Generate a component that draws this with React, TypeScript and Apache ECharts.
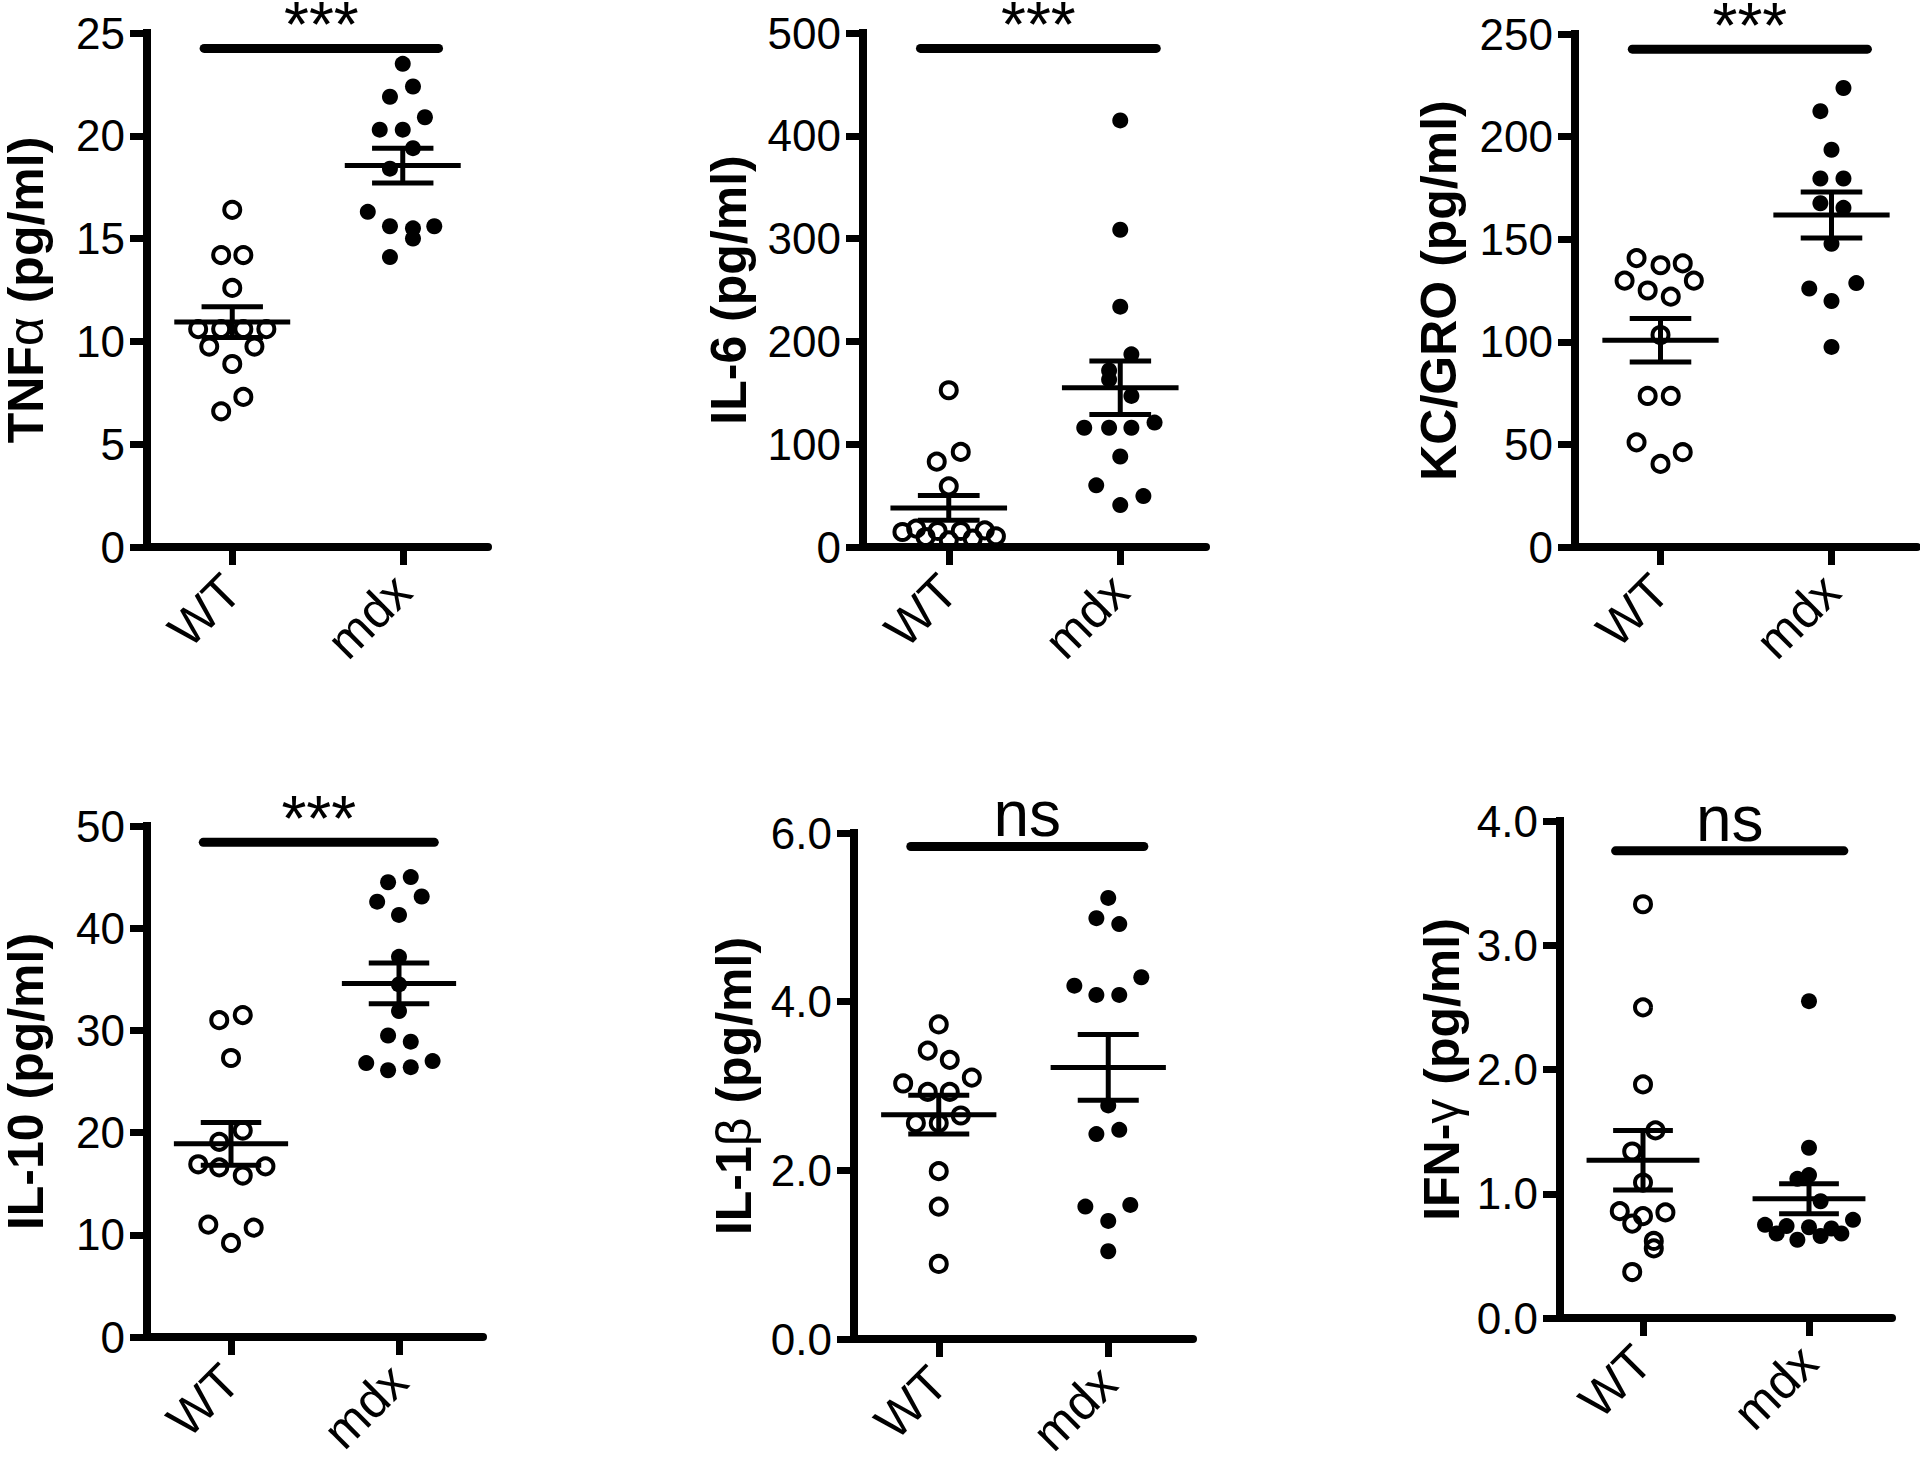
import { useEffect, useRef } from 'react';
import * as echarts from 'echarts';

// ---------- data ----------
const groups = ['WT', 'mdx'];

// each point: [horizontal scatter offset in category units, value]
const tnfWT = [[0, 16.4], [-0.065, 14.2], [0.065, 14.2], [0, 12.6], [-0.2, 10.6], [-0.065, 10.6], [0.065, 10.6], [0.2, 10.6], [-0.135, 9.75], [0.13, 9.75], [0, 8.9], [0.065, 7.3], [-0.065, 6.6]];
const tnfMdx = [[0, 23.5], [0.06, 22.4], [-0.075, 21.9], [0.13, 20.9], [-0.135, 20.3], [0, 20.3], [0.06, 19.4], [-0.075, 18.4], [-0.205, 16.3], [-0.075, 15.6], [0.185, 15.6], [0.06, 15.5], [0.06, 15.0], [-0.075, 14.1]];
const tnfStats = [[10.94, 0.75], [18.55, 0.85]];

const il6WT = [[0, 152.5], [0.07, 92.5], [-0.07, 83], [0, 59], [-0.27, 14.6], [-0.19, 17.9], [-0.135, 9.7], [-0.065, 15.6], [0, 6.5], [0.07, 15.6], [0.14, 8.1], [0.21, 16.2], [0.275, 10.4]];
const il6Mdx = [[0, 415], [0, 308.6], [0, 233.8], [0.065, 187.4], [-0.065, 171.7], [-0.065, 163], [0.065, 147], [-0.21, 116], [-0.065, 116], [0.065, 116], [0.2, 121], [0, 88], [-0.14, 60], [0.135, 49.5], [0, 40.8]];
const il6Stats = [[38, 12], [155, 26]];

const kcWT = [[-0.14, 140.8], [0, 137.3], [0.13, 138.2], [-0.21, 129.8], [0.195, 129.8], [-0.075, 125], [0.06, 122], [0, 103.3], [-0.075, 73.6], [0.06, 73.6], [-0.14, 51], [0.13, 46.2], [0, 40.5]];
const kcMdx = [[0.07, 223.7], [-0.065, 212.4], [0, 193.6], [-0.065, 179.6], [0.07, 179.6], [-0.065, 167.5], [0.07, 165.3], [0, 147.8], [0.145, 128.6], [-0.13, 126], [0, 119.9], [0, 97.5]];
const kcStats = [[100.8, 10.6], [161.8, 11.2]];

const il10WT = [[0.07, 31.5], [-0.07, 31.0], [0, 27.3], [0.07, 20.2], [-0.07, 19.1], [-0.195, 16.9], [-0.07, 16.6], [0.205, 16.7], [0.07, 15.8], [-0.135, 11.0], [0.135, 10.7], [0, 9.2]];
const il10Mdx = [[0.07, 45.0], [-0.065, 44.5], [0.135, 43.1], [-0.13, 42.6], [0, 41.3], [0, 37.2], [0, 34.5], [0, 31.9], [-0.065, 29.5], [0.07, 28.9], [-0.195, 26.8], [-0.065, 26.1], [0.07, 26.4], [0.2, 27.0]];
const il10Stats = [[18.9, 2.1], [34.6, 2.0]];

const il1bWT = [[0, 3.73], [-0.065, 3.42], [0.065, 3.31], [-0.21, 3.03], [0.195, 3.10], [-0.065, 2.93], [0.065, 2.93], [0.13, 2.65], [-0.135, 2.56], [0, 2.56], [0, 1.99], [0, 1.57], [0, 0.89]];
const il1bMdx = [[0, 5.23], [-0.07, 4.99], [0.065, 4.92], [0.195, 4.29], [-0.2, 4.19], [-0.07, 4.08], [0.065, 4.08], [0, 2.77], [-0.07, 2.43], [0.065, 2.48], [0.13, 1.59], [-0.135, 1.57], [0, 1.40], [0, 1.04]];
const il1bStats = [[2.66, 0.23], [3.22, 0.39]];

const ifnWT = [[0, 3.33], [0, 2.50], [0, 1.88], [0.075, 1.51], [-0.065, 1.34], [0, 1.09], [-0.14, 0.86], [0.135, 0.85], [0, 0.82], [-0.065, 0.76], [0.065, 0.62], [0.065, 0.56], [-0.065, 0.37]];
const ifnMdx = [[0, 2.55], [0, 1.37], [0, 1.15], [-0.07, 1.12], [0.07, 0.94], [0.265, 0.79], [-0.265, 0.75], [0, 0.73], [-0.195, 0.68], [0.195, 0.68], [0.07, 0.66], [-0.07, 0.63], [-0.135, 0.74], [0.135, 0.72]];
const ifnStats = [[1.27, 0.24], [0.96, 0.12]];

const axisTitles = ['TNF{g|α} (pg/ml)', 'IL-6 (pg/ml)', 'KC/GRO (pg/ml)', 'IL-10 (pg/ml)', 'IL-1{g|β} (pg/ml)', 'IFN-{g|γ} (pg/ml)'];
const axisMax = [25, 500, 250, 50, 6, 4];
const axisInterval = [5, 100, 50, 10, 2, 1];
const axisDecimals = [0, 0, 0, 0, 1, 1];
const sigLevel = [24.25, 485, 242.6, 48.4, 5.84, 3.76];
const sigLabel = ['***', '***', '***', '***', 'ns', 'ns'];

const wtSets = [tnfWT, il6WT, kcWT, il10WT, il1bWT, ifnWT];
const mdxSets = [tnfMdx, il6Mdx, kcMdx, il10Mdx, il1bMdx, ifnMdx];
const statSets = [tnfStats, il6Stats, kcStats, il10Stats, il1bStats, ifnStats];

// ---------- layout (pixels) ----------
const layout = [
  { left: 145, top: 33, width: 343, height: 514, nameGap: 96 },
  { left: 863, top: 33, width: 343, height: 514, nameGap: 109 },
  { left: 1575, top: 34, width: 342, height: 513, nameGap: 111 },
  { left: 140, top: 826, width: 343, height: 511, nameGap: 96 },
  { left: 854, top: 833, width: 339, height: 506, nameGap: 95 },
  { left: 1560, top: 821, width: 332, height: 497, nameGap: 93 },
];

const FONT = '"Liberation Sans", Arial, Helvetica, sans-serif';

function buildOption() {
  const grid: any[] = [];
  const xAxis: any[] = [];
  const yAxis: any[] = [];
  const series: any[] = [];

  layout.forEach((l, i) => {
    grid.push({ left: l.left, top: l.top, width: l.width, height: l.height, containLabel: false });
    xAxis.push({
      type: 'category',
      gridIndex: i,
      data: groups,
      boundaryGap: true,
      axisLine: { show: true, onZero: false, lineStyle: { color: '#000', width: 8, cap: 'round' } },
      axisTick: { show: true, alignWithLabel: true, length: 18, lineStyle: { color: '#000', width: 7 } },
      axisLabel: { rotate: 45, fontSize: 50, color: '#000', margin: 36, fontFamily: FONT },
      splitLine: { show: false },
    });
    xAxis.push({ type: 'value', gridIndex: i, min: -0.5, max: 1.5, show: false, splitLine: { show: false } });
    const dec = axisDecimals[i];
    yAxis.push({
      type: 'value',
      gridIndex: i,
      min: 0,
      max: axisMax[i],
      interval: axisInterval[i],
      axisLine: { show: true, onZero: false, lineStyle: { color: '#000', width: 8, cap: 'square' } },
      axisTick: { show: true, length: 17, lineStyle: { color: '#000', width: 7 } },
      axisLabel: { fontSize: 44, color: '#000', margin: 22, fontFamily: FONT, formatter: (v: number) => v.toFixed(dec) },
      splitLine: { show: false },
      name: axisTitles[i],
      nameLocation: 'middle',
      nameGap: l.nameGap,
      nameTextStyle: {
        fontSize: 50,
        fontWeight: 'bold',
        color: '#000',
        fontFamily: FONT,
        rich: { g: { fontSize: 50, fontWeight: 'normal', color: '#000', fontFamily: FONT } },
      },
    });

    const xi = 2 * i + 1;
    series.push({
      type: 'scatter',
      xAxisIndex: xi,
      yAxisIndex: i,
      data: wtSets[i].map((p) => [0 + p[0], p[1]]),
      symbol: 'circle',
      symbolSize: 16,
      itemStyle: { color: 'rgba(0,0,0,0)', borderColor: '#000', borderWidth: 4, opacity: 1 },
      z: 2,
    });
    series.push({
      type: 'scatter',
      xAxisIndex: xi,
      yAxisIndex: i,
      data: mdxSets[i].map((p) => [1 + p[0], p[1]]),
      symbol: 'circle',
      symbolSize: 16,
      itemStyle: { color: '#000', opacity: 1 },
      z: 2,
    });
    // mean +/- SEM
    series.push({
      type: 'custom',
      xAxisIndex: xi,
      yAxisIndex: i,
      z: 3,
      data: statSets[i].map((s, k) => [k, s[0], s[1]]),
      renderItem: (_params: any, api: any) => {
        const x = api.value(0);
        const m = api.value(1);
        const se = api.value(2);
        const band = api.size([1, 0])[0];
        const pm = api.coord([x, m]);
        const pt = api.coord([x, m + se]);
        const pb = api.coord([x, m - se]);
        const st = { stroke: '#000', lineWidth: 5 };
        const hm = band * 0.34;
        const hc = band * 0.18;
        return {
          type: 'group',
          children: [
            { type: 'line', shape: { x1: pm[0] - hm, y1: pm[1], x2: pm[0] + hm, y2: pm[1] }, style: st },
            { type: 'line', shape: { x1: pt[0], y1: pt[1], x2: pb[0], y2: pb[1] }, style: st },
            { type: 'line', shape: { x1: pt[0] - hc, y1: pt[1], x2: pt[0] + hc, y2: pt[1] }, style: st },
            { type: 'line', shape: { x1: pb[0] - hc, y1: pb[1], x2: pb[0] + hc, y2: pb[1] }, style: st },
          ],
        };
      },
    });
    // significance bar
    const label = sigLabel[i];
    series.push({
      type: 'custom',
      xAxisIndex: xi,
      yAxisIndex: i,
      z: 3,
      data: [[0, 1, sigLevel[i]]],
      renderItem: (_params: any, api: any) => {
        const y = api.value(2);
        const p0 = api.coord([api.value(0), y]);
        const p1 = api.coord([api.value(1), y]);
        const band = api.size([1, 0])[0];
        const x1 = p0[0] - band * 0.165;
        const x2 = p1[0] + band * 0.21;
        const off = label === 'ns' ? 32 : 23;
        return {
          type: 'group',
          children: [
            { type: 'line', shape: { x1, y1: p0[1], x2, y2: p0[1] }, style: { stroke: '#000', lineWidth: 9, lineCap: 'round' } },
            {
              type: 'text',
              x: (x1 + x2) / 2,
              y: p0[1] - off,
              style: { text: label, fontSize: 64, lineHeight: 40, fontFamily: FONT, fill: '#000', align: 'center', verticalAlign: 'middle' },
            },
          ],
        };
      },
    });
  });

  return { animation: false, backgroundColor: '#fff', grid, xAxis, yAxis, series };
}

export default function App() {
  const ref = useRef<HTMLDivElement>(null);
  useEffect(() => {
    if (!ref.current) return;
    const chart = echarts.init(ref.current, undefined, { renderer: 'svg' });
    chart.setOption(buildOption() as any);
    return () => chart.dispose();
  }, []);
  return (
    <div
      ref={ref}
      style={{ position: 'absolute', left: 0, top: 0, width: 1920, height: 1465, background: '#fff' }}
    />
  );
}
